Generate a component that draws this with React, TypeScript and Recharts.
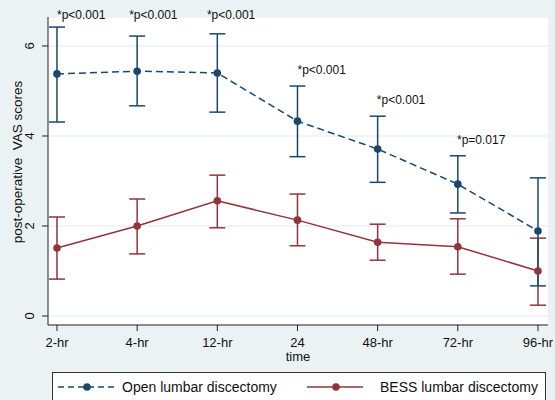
import {
  CartesianGrid,
  ComposedChart,
  ErrorBar,
  Line,
  ReferenceDot,
  XAxis,
  YAxis,
} from 'recharts'

const timeLabels = ['2-hr', '4-hr', '12-hr', '24', '48-hr', '72-hr', '96-hr']

const openMean = [5.38, 5.44, 5.4, 4.33, 3.71, 2.93, 1.89]
const openUpper = [6.42, 6.22, 6.27, 5.11, 4.44, 3.56, 3.07]
const openLower = [4.31, 4.67, 4.53, 3.54, 2.97, 2.29, 0.67]

const bessMean = [1.51, 2.0, 2.56, 2.13, 1.64, 1.54, 1.0]
const bessUpper = [2.2, 2.6, 3.13, 2.71, 2.04, 2.16, 1.73]
const bessLower = [0.82, 1.38, 1.96, 1.56, 1.24, 0.93, 0.24]

// p-value notes, anchored at their left edge
const noteText = ['*p<0.001', '*p<0.001', '*p<0.001', '*p<0.001', '*p<0.001', '*p=0.017']
const noteX = [0, 0.9, 1.87, 3, 3.99, 4.99]
const noteY = [6.69, 6.69, 6.69, 5.47, 4.8, 3.91]

const yTicks = [0, 2, 4, 6]

const NAVY = '#1a476f'
const MAROON = '#90353b'
const BG = '#eaf2f3'
const FONT = '"Liberation Sans", Arial, sans-serif'

const rows = timeLabels.map((label, i) => ({
  x: i,
  label,
  open: openMean[i],
  openErr: [openMean[i] - openLower[i], openUpper[i] - openMean[i]],
  bess: bessMean[i],
  bessErr: [bessMean[i] - bessLower[i], bessUpper[i] - bessMean[i]],
}))

function RotatedTick(props: any) {
  const { x, y, payload } = props
  return (
    <text
      x={x}
      y={y}
      transform={`rotate(-90 ${x} ${y})`}
      textAnchor="middle"
      fontSize={13}
      fontFamily={FONT}
      fill="#111"
    >
      {payload.value}
    </text>
  )
}

function YLabel(props: any) {
  const { viewBox } = props
  const x = viewBox.x + 22
  const y = viewBox.y + viewBox.height / 2 - 9
  return (
    <text
      x={x}
      y={y}
      transform={`rotate(-90 ${x} ${y})`}
      textAnchor="middle"
      fontSize={13.5}
      fontFamily={FONT}
      fill="#111"
      style={{ whiteSpace: 'pre' }}
    >
      post-operative  VAS scores
    </text>
  )
}

function LegendSymbol({ color, dashed }: { color: string; dashed: boolean }) {
  return (
    <svg width={56} height={12} style={{ display: 'block' }}>
      <line
        x1={0}
        y1={6}
        x2={56}
        y2={6}
        stroke={color}
        strokeWidth={1.5}
        strokeDasharray={dashed ? '6 4' : undefined}
      />
      <circle cx={29} cy={6} r={3.8} fill={color} />
    </svg>
  )
}

export default function App() {
  return (
    <div
      style={{
        position: 'absolute',
        left: 0,
        top: 0,
        width: 555,
        height: 400,
        background: BG,
        overflow: 'hidden',
        fontFamily: FONT,
      }}
    >
      <ComposedChart
        width={555}
        height={400}
        data={rows}
        margin={{ top: 17, right: 7, bottom: 35, left: 0 }}
      >
        <CartesianGrid fill="#ffffff" stroke={BG} strokeWidth={1.5} vertical={false} />
        <XAxis
          type="number"
          dataKey="x"
          domain={[-0.112, 6.125]}
          allowDataOverflow
          ticks={[0, 1, 2, 3, 4, 5, 6]}
          tickFormatter={(v: number) => timeLabels[v]}
          height={40}
          tickSize={6}
          tickMargin={7}
          stroke="#222"
          tick={{ fill: '#111', fontSize: 13, fontFamily: FONT }}
          label={{
            value: 'time',
            position: 'insideBottom',
            offset: 4,
            fill: '#111',
            fontSize: 13,
            fontFamily: FONT,
          }}
        />
        <YAxis
          type="number"
          domain={[-0.2, 6.644]}
          allowDataOverflow
          ticks={yTicks}
          width={48}
          tickSize={6}
          tickMargin={8}
          stroke="#222"
          tick={<RotatedTick />}
          label={<YLabel />}
        />
        <Line
          dataKey="bess"
          stroke={MAROON}
          strokeWidth={1.5}
          dot={{ r: 3.8, fill: MAROON, stroke: MAROON, strokeWidth: 0 }}
          isAnimationActive={false}
        >
          <ErrorBar dataKey="bessErr" width={8} stroke={MAROON} strokeWidth={1.5} />
        </Line>
        <Line
          dataKey="open"
          stroke={NAVY}
          strokeWidth={1.5}
          strokeDasharray="7 4"
          dot={{ r: 3.8, fill: NAVY, stroke: NAVY, strokeWidth: 0, strokeDasharray: '' }}
          isAnimationActive={false}
        >
          <ErrorBar dataKey="openErr" width={8} stroke={NAVY} strokeWidth={1.5} />
        </Line>
        {noteText.map((t, i) => (
          <ReferenceDot
            key={i}
            x={noteX[i]}
            y={noteY[i]}
            r={0}
            ifOverflow="visible"
            shape={(p: any) => (
              <text
                x={p.cx}
                y={p.cy}
                dominantBaseline="central"
                fontSize={12}
                fontFamily={FONT}
                fill="#111"
              >
                {t}
              </text>
            )}
          />
        ))}
      </ComposedChart>
      <div
        style={{
          position: 'absolute',
          left: 52,
          top: 372,
          width: 492,
          height: 27,
          background: '#fff',
          border: '1px solid #333',
          display: 'flex',
          alignItems: 'center',
          fontSize: 14,
          color: '#111',
        }}
      >
        <div style={{ position: 'absolute', left: 5, display: 'flex', alignItems: 'center' }}>
          <LegendSymbol color={NAVY} dashed />
          <span style={{ marginLeft: 8 }}>Open lumbar discectomy</span>
        </div>
        <div style={{ position: 'absolute', left: 254, display: 'flex', alignItems: 'center' }}>
          <LegendSymbol color={MAROON} dashed={false} />
          <span style={{ marginLeft: 17 }}>BESS lumbar discectomy</span>
        </div>
      </div>
    </div>
  )
}
